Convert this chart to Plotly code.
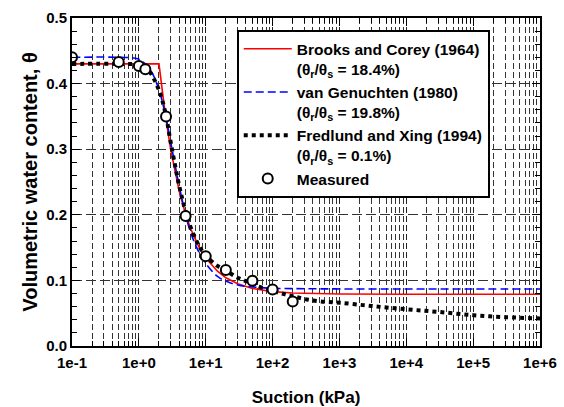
import plotly.graph_objects as go

# Measured data
meas_x = [0.1, 0.5, 1.0, 1.25, 2.55, 5.0, 10.0, 20.0, 50.0, 100.0, 200.0]
meas_y = [0.440, 0.433, 0.427, 0.422, 0.350, 0.198, 0.137, 0.116, 0.0995, 0.086, 0.068]

# Brooks and Corey (1964) curve
bc_x = [0.1, 0.5, 1.0, 2.0, 2.5, 3.0, 4.0, 5.0, 6.0, 8.0, 10.0, 15.0, 20.0, 30.0, 50.0,
        100.0, 200.0, 500.0, 1e3, 1e4, 1e5, 1e6]
bc_y = [0.430, 0.430, 0.430, 0.430, 0.351, 0.299, 0.237, 0.201, 0.178, 0.150, 0.134, 0.114,
        0.104, 0.095, 0.0877, 0.0829, 0.0808, 0.0796, 0.0793, 0.079, 0.079, 0.079]

# van Genuchten (1980) curve
vg_x = [0.1, 0.5, 1.0, 1.5, 2.0, 2.5, 3.0, 4.0, 5.0, 6.0, 8.0, 10.0, 15.0, 20.0, 30.0,
        50.0, 100.0, 200.0, 1e3, 1e4, 1e5, 1e6]
vg_y = [0.440, 0.440, 0.437, 0.420, 0.390, 0.352, 0.310, 0.245, 0.200, 0.172, 0.142, 0.126,
        0.106, 0.099, 0.093, 0.090, 0.088, 0.0875, 0.087, 0.087, 0.087, 0.087]

# Fredlund and Xing (1994) curve
fx_x = [0.1, 0.5, 1.0, 1.25, 1.5, 2.0, 2.5, 3.0, 4.0, 5.0, 6.0, 8.0, 10.0, 15.0, 20.0,
        30.0, 40.0, 60.0, 100.0, 150.0, 200.0, 300.0, 500.0, 1e3, 3e3, 1e4, 3e4, 1e5, 3e5, 1e6]
fx_y = [0.430, 0.430, 0.429, 0.425, 0.416, 0.390, 0.355, 0.310, 0.245, 0.205, 0.180, 0.152,
        0.138, 0.122, 0.115, 0.104, 0.099, 0.091, 0.084, 0.079, 0.076, 0.0716, 0.068, 0.066,
        0.061, 0.056, 0.052, 0.047, 0.044, 0.042]

x_tickvals = [0.1, 1, 10, 100, 1e3, 1e4, 1e5, 1e6]
x_ticktext = ["1e-1", "1e+0", "1e+1", "1e+2", "1e+3", "1e+4", "1e+5", "1e+6"]
x_minor = [m * 10.0 ** e for e in range(-1, 6) for m in range(2, 10)]
y_tickvals = [0.0, 0.1, 0.2, 0.3, 0.4, 0.5]
y_ticktext = ["0.0", "0.1", "0.2", "0.3", "0.4", "0.5"]

names = [
    "Brooks and Corey (1964)<br>(θ<sub>r</sub>/θ<sub>s</sub> = 18.4%)",
    "van Genuchten (1980)<br>(θ<sub>r</sub>/θ<sub>s</sub> = 19.8%)",
    "Fredlund and Xing (1994)<br>(θ<sub>r</sub>/θ<sub>s</sub> = 0.1%)",
    "Measured",
]

FONT = "Liberation Sans"
W = 700

fig = go.Figure()
fig.add_trace(go.Scatter(x=bc_x, y=bc_y, mode="lines", name=names[0],
                         line=dict(color="#ff0000", width=1.6)))
fig.add_trace(go.Scatter(x=vg_x, y=vg_y, mode="lines", name=names[1],
                         line=dict(color="#0000ff", width=1.6, dash="8px,4px", shape="spline")))
fig.add_trace(go.Scatter(x=fx_x, y=fx_y, mode="lines", name=names[2],
                         line=dict(color="#000000", width=4, dash="4px,4px", shape="spline")))
fig.add_trace(go.Scatter(x=meas_x, y=meas_y, mode="markers", name=names[3],
                         marker=dict(symbol="circle", size=10, color="white",
                                     line=dict(color="black", width=2))))

fig.update_layout(
    width=564, height=407,
    margin=dict(l=72, r=24, t=18, b=61),
    paper_bgcolor="white", plot_bgcolor="white",
    font=dict(family=FONT, size=15, color="black", weight=W),
    showlegend=True,
    legend=dict(x=0.352, y=0.963, xanchor="left", yanchor="top",
                bgcolor="white", bordercolor="black", borderwidth=2,
                font=dict(family=FONT, size=15.5, color="black", weight=W),
                valign="top", tracegroupgap=0, itemwidth=48),
)

fig.update_xaxes(
    type="log", range=[-1, 6], automargin=False,
    tickmode="array", tickvals=x_tickvals, ticktext=x_ticktext,
    ticks="inside", ticklen=8, tickwidth=1, tickcolor="black",
    showline=True, linecolor="black", linewidth=2, mirror="allticks",
    showgrid=True, gridcolor="#222222", gridwidth=1, griddash="6px,3px",
    minor=dict(tickmode="array", tickvals=x_minor, ticks="inside", ticklen=5,
               tickcolor="black", showgrid=True, gridcolor="#333333", gridwidth=1,
               griddash="6px,3px"),
    tickfont=dict(family=FONT, size=15, color="black", weight=W),
    ticklabelstandoff=2,
    title=dict(text="Suction (kPa)", standoff=22,
               font=dict(family=FONT, size=17, color="black", weight=W)),
    zeroline=False,
)

fig.update_yaxes(
    range=[0, 0.5], automargin=False,
    tickmode="array", tickvals=y_tickvals, ticktext=y_ticktext,
    ticks="inside", ticklen=8, tickwidth=1, tickcolor="black",
    showline=True, linecolor="black", linewidth=2, mirror="allticks",
    showgrid=True, gridcolor="#333333", gridwidth=1, griddash="10px,4px",
    minor=dict(dtick=0.02, tick0=0, ticks="inside", ticklen=5, tickcolor="black",
               showgrid=False),
    tickfont=dict(family=FONT, size=15, color="black", weight=W),
    title=dict(text="Volumetric water content, θ", standoff=3,
               font=dict(family=FONT, size=20, color="black", weight=W)),
    zeroline=False,
)

fig.write_html("out.html")
